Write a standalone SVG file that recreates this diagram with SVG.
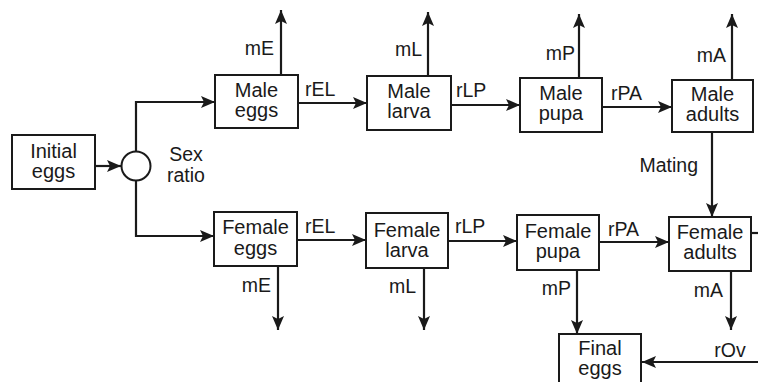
<svg xmlns="http://www.w3.org/2000/svg" width="758" height="382" viewBox="0 0 758 382">
  <style>
    .box { fill: #fff; stroke: #1a1a1a; stroke-width: 2; }
    .t { font-family: "Liberation Sans", Arial, Helvetica, sans-serif; font-size: 20px; fill: #1a1a1a; text-anchor: middle; }
    .lbl { font-family: "Liberation Sans", Arial, Helvetica, sans-serif; font-size: 19.5px; fill: #1a1a1a; }
    .end { text-anchor: end; }
    .mid { text-anchor: middle; }
    .ln { fill: none; stroke: #1a1a1a; stroke-width: 2.2; }
    .arr { fill: none; stroke: #1a1a1a; stroke-width: 2.2; marker-end: url(#head); }
  </style>
  <defs>
    <marker id="head" markerUnits="userSpaceOnUse" markerWidth="16" markerHeight="13" refX="14" refY="6.5" orient="auto">
      <path d="M0,0.5 L14,6.5 L0,12.5 L3,6.5 Z" fill="#1a1a1a"/>
    </marker>
  </defs>
  <rect width="758" height="382" fill="#fff"/>

  <!-- connectors -->
  <g id="connectors">
    <path class="arr" d="M95,166 H121"/>
    <path class="arr" d="M136,152 V102 H215"/>
    <path class="arr" d="M136,180 V236 H214"/>

    <path class="arr" d="M298,103 H367"/>
    <path class="arr" d="M451,105 H520"/>
    <path class="arr" d="M602,107 H672"/>
    <path class="arr" d="M281,75 V10"/>
    <path class="arr" d="M428,76 V12"/>
    <path class="arr" d="M579,78 V14"/>
    <path class="arr" d="M732,80 V14"/>

    <path class="arr" d="M712,132 V217"/>

    <path class="arr" d="M297,240 H366"/>
    <path class="arr" d="M448,241 H517"/>
    <path class="arr" d="M599,242 H669"/>
    <path class="arr" d="M278,266 V330"/>
    <path class="arr" d="M424,268 V330"/>
    <path class="arr" d="M577,270 V334"/>
    <path class="arr" d="M731,271 V330"/>
    <path class="ln" d="M751,233 H758"/>
    <path class="arr" d="M758,362 H642"/>

    <text class="lbl mid" x="186" y="161">Sex</text>
    <text class="lbl mid" x="186" y="182">ratio</text>

    <text class="lbl end" x="274" y="55">mE</text>
    <text class="lbl end" x="422" y="56">mL</text>
    <text class="lbl end" x="575" y="60">mP</text>
    <text class="lbl end" x="726" y="62">mA</text>
    <text class="lbl" x="305" y="96">rEL</text>
    <text class="lbl" x="456" y="97">rLP</text>
    <text class="lbl" x="611" y="100">rPA</text>
    <text class="lbl end" x="698" y="172">Mating</text>

    <text class="lbl" x="305" y="233">rEL</text>
    <text class="lbl" x="455" y="233">rLP</text>
    <text class="lbl" x="608" y="236">rPA</text>
    <text class="lbl end" x="271" y="292">mE</text>
    <text class="lbl end" x="416" y="293">mL</text>
    <text class="lbl end" x="571" y="295">mP</text>
    <text class="lbl end" x="723" y="297">mA</text>
    <text class="lbl mid" x="730" y="357">rOv</text>
  </g>

  <!-- nodes -->
  <g id="initial-eggs">
    <rect class="box" x="12" y="135" width="83" height="54"/>
    <text class="t" x="53.5" y="158">Initial</text>
    <text class="t" x="53.5" y="178">eggs</text>
  </g>
  <g id="sex-ratio">
    <circle class="box" cx="136" cy="166" r="14.5"/>
  </g>

  <g id="male-eggs">
    <rect class="box" x="215" y="75" width="83" height="53"/>
    <text class="t" x="256.5" y="97">Male</text>
    <text class="t" x="256.5" y="117">eggs</text>
  </g>
  <g id="male-larva">
    <rect class="box" x="367" y="76" width="84" height="54"/>
    <text class="t" x="409" y="98">Male</text>
    <text class="t" x="409" y="118">larva</text>
  </g>
  <g id="male-pupa">
    <rect class="box" x="520" y="78" width="82" height="54"/>
    <text class="t" x="561" y="100">Male</text>
    <text class="t" x="561" y="120">pupa</text>
  </g>
  <g id="male-adults">
    <rect class="box" x="672" y="80" width="81" height="52"/>
    <text class="t" x="712.5" y="101">Male</text>
    <text class="t" x="712.5" y="121">adults</text>
  </g>

  <g id="female-eggs">
    <rect class="box" x="214" y="212" width="83" height="54"/>
    <text class="t" x="255.5" y="234">Female</text>
    <text class="t" x="255.5" y="255">eggs</text>
  </g>
  <g id="female-larva">
    <rect class="box" x="366" y="213" width="82" height="55"/>
    <text class="t" x="407" y="237">Female</text>
    <text class="t" x="407" y="257">larva</text>
  </g>
  <g id="female-pupa">
    <rect class="box" x="517" y="215" width="82" height="55"/>
    <text class="t" x="558" y="238">Female</text>
    <text class="t" x="558" y="258">pupa</text>
  </g>
  <g id="female-adults">
    <rect class="box" x="669" y="217" width="82" height="54"/>
    <text class="t" x="710" y="239">Female</text>
    <text class="t" x="710" y="259">adults</text>
  </g>

  <g id="final-eggs">
    <rect class="box" x="559" y="334" width="82" height="60"/>
    <text class="t" x="600" y="355">Final</text>
    <text class="t" x="600" y="375">eggs</text>
  </g>
</svg>
